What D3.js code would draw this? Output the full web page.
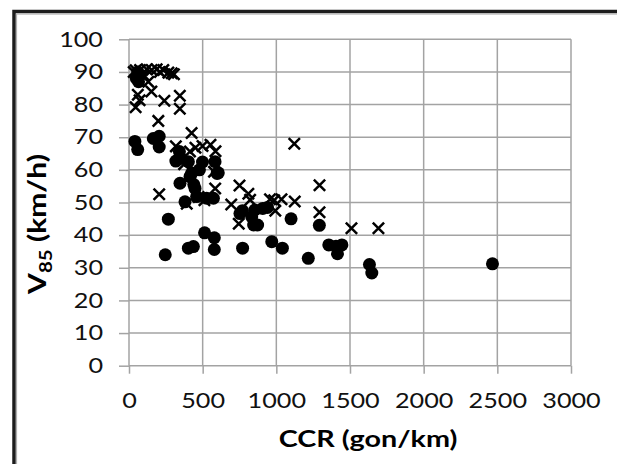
<!DOCTYPE html>
<html>
<head>
<meta charset="utf-8">
<script src="https://cdn.jsdelivr.net/npm/d3@7/dist/d3.min.js"></script>
<style>
  html, body { margin: 0; padding: 0; background: #fff; }
  svg { display: block; }
  .tick text { font-family: Lato, "Open Sans", sans-serif; font-size: 21px; fill: #111; }
  .title { font-family: Lato, "Open Sans", sans-serif; font-weight: bold; font-size: 23px; fill: #000; }
</style>
</head>
<body>
<svg id="chart" width="617" height="464"></svg>
<script>
// Tick values for both axes
const xTicks = [0, 500, 1000, 1500, 2000, 2500, 3000];
const yTicks = [0, 10, 20, 30, 40, 50, 60, 70, 80, 90, 100];

// Series 1 (filled circles): [CCR gon/km, V85 km/h]
const circleCCR = [40, 59, 50, 60, 65, 75, 165, 205, 205, 267, 246,
  318, 342, 352, 346, 380, 403, 414, 426, 440, 448, 459, 499, 478, 527, 573, 584, 606, 598,
  513, 579, 579, 403, 437, 771,
  753, 770, 833, 846, 873, 854, 908, 940,
  969, 1041, 1100, 1292, 1217, 1356, 1405, 1445, 1415, 1632, 1648, 2467];
const circleV85 = [68.7, 66.2, 88, 90, 87, 89, 69.6, 70.3, 67, 44.9, 34,
  62.7, 65.6, 63.5, 55.9, 50.2, 62.5, 57.9, 59, 55.5, 54.3, 51.8, 62.4, 60, 51.3, 51.3, 62.5, 59.1, 58.9,
  40.7, 39.2, 35.6, 36, 36.5, 36,
  46.6, 47.5, 45.6, 43.1, 43.1, 47.7, 48.2, 48.5,
  38, 36, 45, 43, 32.9, 37, 36.6, 37, 34.3, 31, 28.4, 31.2];

// Series 2 (crosses): [CCR gon/km, V85 km/h]
const crossCCR = [32, 45, 75, 100, 120, 154, 188, 210, 233, 267, 290, 305,
  131, 152, 72, 60, 45, 240, 345, 345, 199,
  425, 318, 414, 451, 499, 553, 587, 1122,
  374, 577, 585, 205, 392, 473, 512,
  694, 750, 745, 810, 822, 957, 993, 985, 1035, 1125,
  1293, 1293, 1510, 1693];
const crossV85 = [90, 90.5, 90.6, 89, 90.8, 90.6, 90.8, 90, 90.6, 89.8, 89.6, 89.3,
  87, 84, 81.3, 83, 79.2, 81.2, 82.7, 78.7, 75,
  71.3, 67.2, 65.6, 66.8, 67.3, 67.7, 65.7, 68,
  61.7, 59.4, 54.3, 52.5, 49.6, 51.7, 50.7,
  49.4, 55.2, 43.5, 52.7, 50.8, 51, 47.5, 50.7, 51, 50.3,
  55.3, 47, 42.1, 42.1];

const svg = d3.select("#chart");

// Outer chart frame
svg.append("rect")
  .attr("x", 14).attr("y", 11.5)
  .attr("width", 700).attr("height", 600)
  .attr("fill", "none").attr("stroke", "#1c1c1c").attr("stroke-width", 3.5);
svg.append("rect")
  .attr("x", 16.5).attr("y", 14)
  .attr("width", 700).attr("height", 600)
  .attr("fill", "none").attr("stroke", "#b0b0b0").attr("stroke-width", 1.2);

const x = d3.scaleLinear().domain([0, 3000]).range([129, 571]);
const y = d3.scaleLinear().domain([0, 100]).range([365.7, 39.3]);

const gridColor = "#a3a3a3";

// Gridlines
svg.append("g").selectAll("line.h").data(yTicks).join("line")
  .attr("x1", x(0)).attr("x2", x(3000))
  .attr("y1", d => y(d)).attr("y2", d => y(d))
  .attr("stroke", gridColor).attr("stroke-width", 1.5);
svg.append("g").selectAll("line.v").data(xTicks).join("line")
  .attr("x1", d => x(d)).attr("x2", d => x(d))
  .attr("y1", y(0)).attr("y2", y(100))
  .attr("stroke", gridColor).attr("stroke-width", 1.5);

// Axes with outward tick stubs
const xAxis = svg.append("g")
  .attr("transform", `translate(0,${y(0)})`)
  .call(d3.axisBottom(x).tickValues(xTicks).tickSize(8).tickPadding(19).tickFormat(d3.format("d")));
const yAxis = svg.append("g")
  .attr("transform", `translate(${x(0)},0)`)
  .call(d3.axisLeft(y).tickValues(yTicks).tickSize(10).tickPadding(16).tickFormat(d3.format("d")));
[xAxis, yAxis].forEach(g => {
  g.select(".domain").remove();
  g.selectAll(".tick line").attr("stroke", gridColor).attr("stroke-width", 1.5);
  g.attr("font-family", null).attr("font-size", null);
  // widen the tick digits slightly, keeping each label anchored where the axis put it
  g.selectAll(".tick text").each(function () {
    const t = d3.select(this);
    const tx = +t.attr("x") || 0;
    t.attr("x", 0).attr("transform", `translate(${tx},0) scale(1.2,1)`);
  });
});

// Crosses
const crossData = crossCCR.map((c, i) => [c, crossV85[i]]);
svg.append("g").selectAll("path").data(crossData).join("path")
  .attr("transform", d => `translate(${x(d[0])},${y(d[1])})`)
  .attr("d", d3.symbol(d3.symbolX, 85))
  .attr("fill", "none").attr("stroke", "#000").attr("stroke-width", 2.5);

// Circles
const circleData = circleCCR.map((c, i) => [c, circleV85[i]]);
svg.append("g").selectAll("circle").data(circleData).join("circle")
  .attr("cx", d => x(d[0])).attr("cy", d => y(d[1]))
  .attr("r", 6.5).attr("fill", "#000");

// Axis titles
const yTitle = svg.append("text").attr("class", "title")
  .attr("transform", `translate(46,224) rotate(-90) scale(1.2,1)`)
  .attr("text-anchor", "middle")
  .style("font-size", "25px");
yTitle.append("tspan").text("V");
yTitle.append("tspan").attr("dy", 6).attr("font-size", "17px").text("85");
yTitle.append("tspan").attr("dy", -6).text(" (km/h)");

svg.append("text").attr("class", "title")
  .attr("transform", "translate(368,447) scale(1.25,1)")
  .attr("text-anchor", "middle")
  .text("CCR (gon/km)");
</script>
</body>
</html>
